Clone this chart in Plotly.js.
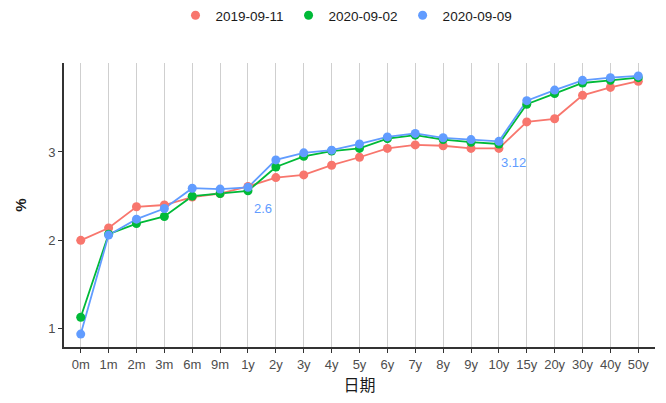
<!DOCTYPE html>
<html>
<head>
<meta charset="utf-8">
<script src="https://cdn.plot.ly/plotly-3.0.1.min.js"></script>
<style>html,body{margin:0;padding:0;background:#fff;}#chart{width:666px;height:403px;}</style>
</head>
<body>
<div id="chart"></div>
<script>
const categories = ["0m","1m","2m","3m","6m","9m","1y","2y","3y","4y","5y","6y","7y","8y","9y","10y","15y","20y","30y","40y","50y"];
const seriesNames = ["2019-09-11","2020-09-02","2020-09-09"];
const s2019_09_11 = [2.00,2.14,2.38,2.40,2.49,2.53,2.61,2.71,2.74,2.85,2.94,3.04,3.08,3.07,3.04,3.04,3.34,3.375,3.64,3.73,3.80];
const s2020_09_02 = [1.13,2.07,2.19,2.27,2.50,2.53,2.56,2.83,2.95,3.01,3.04,3.15,3.19,3.14,3.11,3.09,3.54,3.66,3.78,3.81,3.84];
const s2020_09_09 = [0.94,2.06,2.24,2.36,2.59,2.58,2.60,2.91,2.99,3.02,3.09,3.17,3.21,3.16,3.14,3.12,3.58,3.70,3.81,3.84,3.86];
const labelIdx = [6, 15];
const colors = ["#F8766D","#00BA38","#619CFF"];
const allSeries = [s2019_09_11, s2020_09_02, s2020_09_09];

const traces = [];
allSeries.forEach((vals, i) => {
  traces.push({
    type: "scatter", mode: "lines", name: seriesNames[i], legendgroup: seriesNames[i], showlegend: false,
    x: categories, y: vals,
    line: {color: colors[i], width: 1.8}
  });
});
allSeries.forEach((vals, i) => {
  traces.push({
    type: "scatter", mode: "markers", name: seriesNames[i], legendgroup: seriesNames[i], showlegend: true,
    x: categories, y: vals,
    marker: {color: colors[i], size: 9}
  });
});

const annotations = labelIdx.map(k => ({
  x: categories[k], y: s2020_09_09[k], xref: "x", yref: "y",
  text: String(s2020_09_09[k]), showarrow: false,
  xshift: 15, yshift: -21,
  font: {family: "Liberation Sans, Arial, sans-serif", size: 13, color: "#619CFF"}
}));

const layout = {
  width: 666, height: 403,
  margin: {l: 64, r: 11, t: 63, b: 56},
  paper_bgcolor: "#fff", plot_bgcolor: "#fff",
  font: {family: "Liberation Sans, Arial, 'Noto Sans CJK SC', sans-serif", size: 13, color: "#4d4d4d"},
  showlegend: true,
  legend: {orientation: "h", x: 0.478, xanchor: "center", y: 1.0, yref: "container", yanchor: "top",
    font: {size: 13.5, color: "#1a1a1a"}, itemwidth: 30, tracegroupgap: 0, traceorder: "normal"},
  xaxis: {
    type: "category", range: [-0.6, 20.6],
    showgrid: true, gridcolor: "#cfcfcf", gridwidth: 1,
    showline: true, linecolor: "#333", linewidth: 2,
    ticks: "outside", ticklen: 4, tickcolor: "#333", tickwidth: 1,
    tickfont: {size: 13, color: "#4d4d4d"},
    zeroline: false,
    title: {text: "日期", font: {family: "'Noto Sans CJK SC', sans-serif", size: 16, color: "#1a1a1a"}, standoff: 9}
  },
  yaxis: {
    range: [0.794, 4.006],
    tickvals: [1, 2, 3], ticktext: ["1","2","3"],
    showgrid: false, zeroline: false,
    showline: true, linecolor: "#333", linewidth: 2,
    ticks: "outside", ticklen: 4, tickcolor: "#333", tickwidth: 1,
    tickfont: {size: 13, color: "#4d4d4d"},
    title: {text: "<b>%</b>", font: {size: 15, color: "#1a1a1a"}, standoff: 18}
  },
  annotations: annotations
};

Plotly.newPlot("chart", traces, layout, {displayModeBar: false, staticPlot: true});
</script>
</body>
</html>
